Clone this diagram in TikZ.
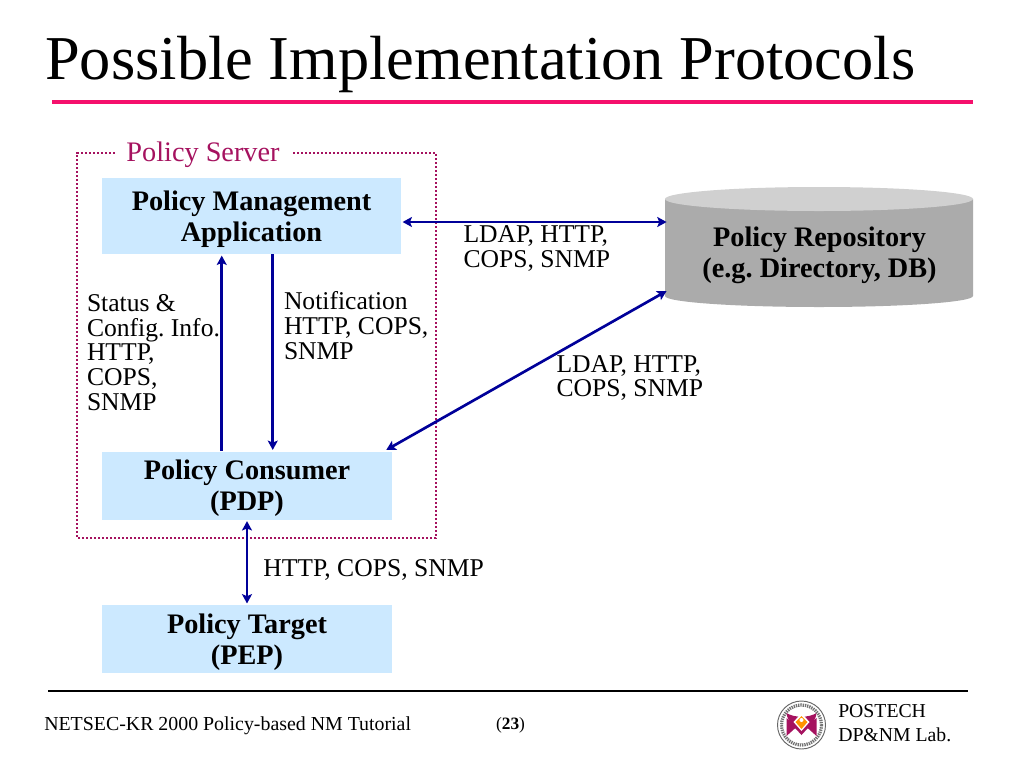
\documentclass[tikz,border=0pt]{standalone}
\usepackage{fontspec}
\setmainfont{Liberation Serif}
\usetikzlibrary{arrows.meta, positioning}
\frenchspacing

\definecolor{linkblue}{HTML}{000099}
\definecolor{boxblue}{HTML}{CCE9FF}
\definecolor{framered}{HTML}{A5125F}
\definecolor{rulepink}{HTML}{F5106C}
\definecolor{repotop}{HTML}{D0D0D0}
\definecolor{repobody}{HTML}{ABABAB}

\tikzset{
    bluebox/.style={fill=boxblue, align=center, inner sep=0pt, font=\fontsize{21.2}{23.25}\selectfont\bfseries, text height=42.5pt},
    linklabel/.style={align=left, inner sep=0pt, font=\fontsize{19.2}{18.5}\selectfont},
    link/.style={draw=linkblue, line width=2pt},
    footer/.style={inner sep=0pt, align=left, anchor=west}
}

\begin{document}
\begin{tikzpicture}[>={Stealth[length=7pt, width=7.5pt, inset=1.5pt]}, x=0.75pt, y=-0.75pt]
    \useasboundingbox (0,0) rectangle (1024,768);

    % Title
    \node (title) [anchor=west, inner sep=0pt, font=\fontsize{46.8}{50}\selectfont] at (45,64.5) {Possible Implementation Protocols};
    \draw[rulepink, line width=3pt] (52,102) -- (973,102);

    % Policy repository (body is painted before its node)
    \fill[repobody] (665,199) -- (665,296) arc[start angle=180, end angle=0, x radius=154, y radius=11] -- (973,199) -- cycle;
    \fill[repotop] (819,199) ellipse[x radius=154, y radius=12];

    % Nodes
    \node (app) [bluebox, minimum width=224.25pt, minimum height=57pt] at (251.5,216) {Policy Management\\Application};
    \node (consumer) [bluebox, minimum width=217.5pt, minimum height=51pt, below=147.75pt of app.south west, anchor=north west] {Policy Consumer\\(PDP)};
    \node (target) [bluebox, minimum width=217.5pt, minimum height=51pt, below=63.75pt of consumer] {Policy Target\\(PEP)};
    \node (repo) [bluebox, fill=none, minimum width=231pt, minimum height=90pt, right=198pt of app.east, yshift=-27pt] {Policy Repository\\(e.g. Directory, DB)};

    % Policy server frame
    \node (server) [text=framered, inner xsep=8.5pt, inner ysep=0pt, font=\fontsize{21.2}{24}\selectfont] at (203,155) {Policy Server};
    \draw[framered, line width=2pt, dash pattern=on 1.5pt off 1.5pt] ([yshift=1.5pt]server.west) -- (77,153) -- (77,538) -- (436,538) -- (436,153) -- ([yshift=1.5pt]server.east);

    % Link labels
    \node (ldapa) [linklabel, right=46.5pt of app.east, anchor=west, yshift=-24.5pt] {LDAP, HTTP,\\COPS, SNMP};
    \node (ldapb) [linklabel, right=123pt of consumer.north east, anchor=west, yshift=55pt] {LDAP, HTTP,\\COPS, SNMP};
    \node (status) [linklabel, below=30pt of app.south west, anchor=north west, xshift=-11.25pt] {Status \&\\Config. Info.\\HTTP,\\COPS,\\SNMP};
    \node (notify) [linklabel, below=28pt of app.south west, anchor=north west, xshift=136.5pt] {Notification\\HTTP, COPS,\\SNMP};
    \node (httpc) [linklabel, right=12pt of consumer.south, anchor=west, yshift=-37.5pt] {HTTP, COPS, SNMP};

    % Links
    \draw[link, <-] ([xshift=90pt, yshift=-1pt]app.south west) -- ([xshift=90pt]consumer.north west);
    \draw[link, ->] ([xshift=128.25pt]app.south west) -- ([xshift=128.25pt, yshift=1pt]consumer.north west);
    \draw[link, <->] ([xshift=1pt, yshift=-4.5pt]app.east) -- ([xshift=1pt, yshift=22.5pt]repo.west);
    \draw[link, <->] ([xshift=-4.5pt, yshift=1pt]consumer.north east) -- ([xshift=1pt, yshift=-29.25pt]repo.west);
    \draw[link, <->] ([yshift=-1pt]consumer.south) -- ([yshift=1pt]target.north);

    % Footer
    \draw[black, line width=1.1pt] (48,691) -- (968,691);
    \node (course) [footer, font=\fontsize{14.9}{16}\selectfont] at (44,726) {NETSEC-KR 2000 Policy-based NM Tutorial};
    \node (page) [inner sep=0pt, font=\fontsize{13}{14}\selectfont] at (510.5,725) {(\textbf{23})};
    \node (lab) [footer, font=\fontsize{14.8}{18}\selectfont] at (838,723) {POSTECH\\DP\&NM Lab.};

    % Logo
    \begin{scope}[shift={(4.5,0)}]
        \fill[white, draw=black!60, line width=0.7pt] (797,725) circle[radius=24];
        \draw[black!55, line width=2.4pt, dash pattern=on 1pt off 0.7pt] (797,725) circle[radius=20];
        \fill[white] (797,725) circle[radius=17];
        \fill[framered] (782,713) .. controls (790,718) and (804,718) .. (812,713) .. controls (811,722) and (805,726) .. (797,735) .. controls (789,726) and (783,722) .. (782,713) -- cycle;
        \fill[framered] (782,718) -- (792,727) -- (782,736) -- cycle;
        \fill[framered] (812,718) -- (802,727) -- (812,736) -- cycle;
        \fill[white] (797,713) -- (805,722) -- (797,731) -- (789,722) -- cycle;
        \fill[orange!85!yellow] (797,716) -- (803,722) -- (797,729) -- (791,722) -- cycle;
        \fill[white] (797,720) circle[radius=2];
    \end{scope}
\end{tikzpicture}
\end{document}
